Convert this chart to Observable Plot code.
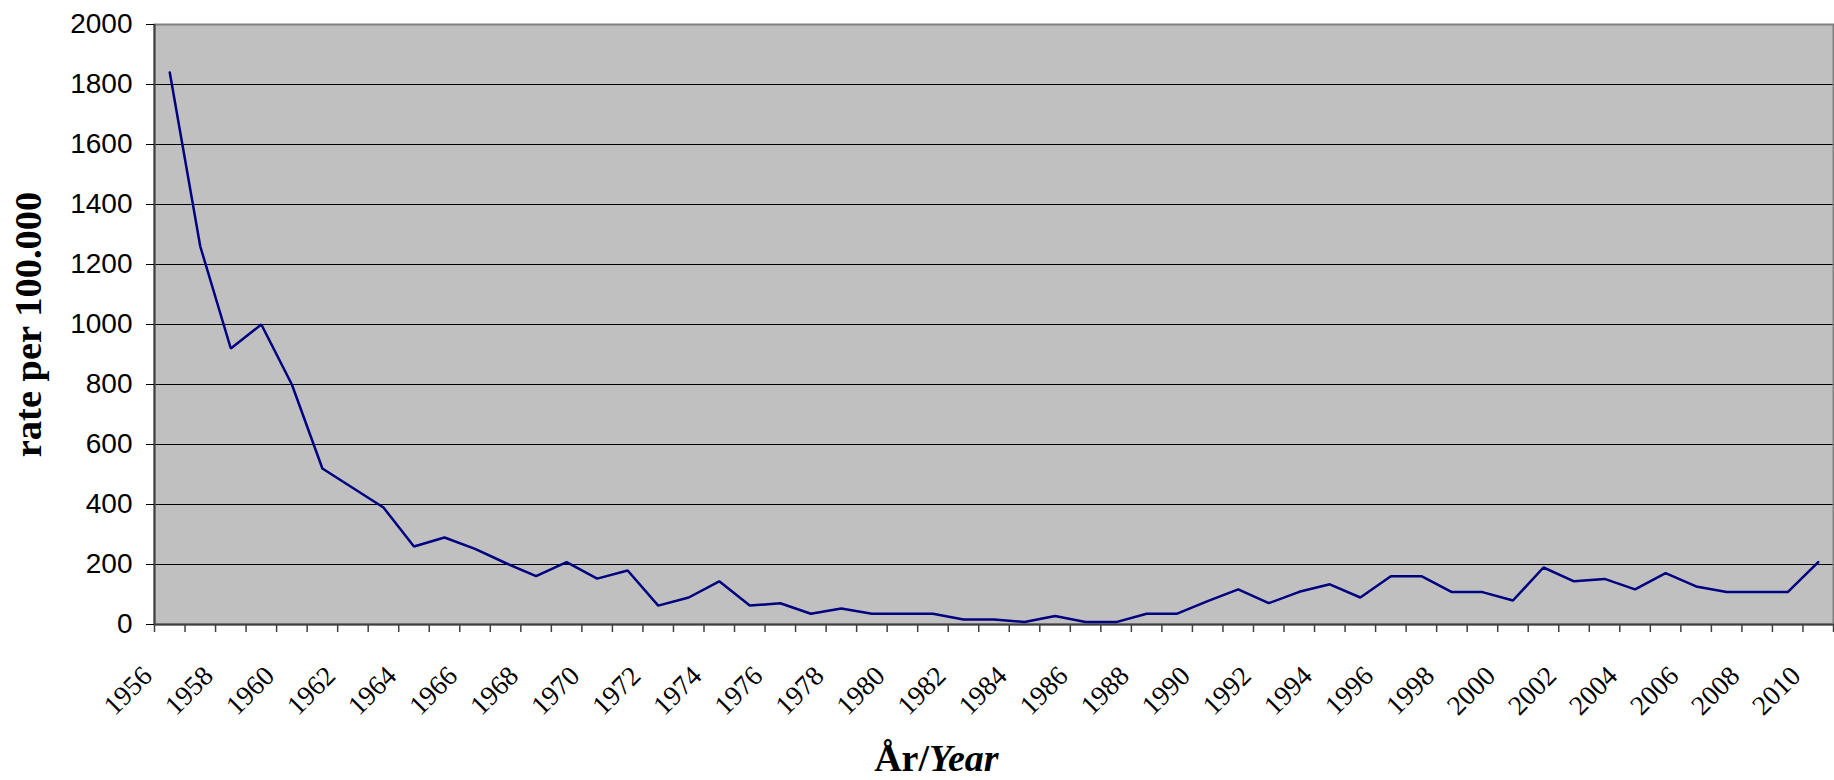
<!DOCTYPE html>
<html>
<head>
<meta charset="utf-8">
<script src="https://cdn.jsdelivr.net/npm/d3@7"></script>
<script src="https://cdn.jsdelivr.net/npm/@observablehq/plot@0.6"></script>
<style>
  html, body { margin: 0; padding: 0; background: #ffffff; }
  #chart { width: 1834px; height: 780px; overflow: hidden; }
</style>
</head>
<body>
<div id="chart"></div>
<script>
const years = d3.range(1956, 2011);
const rates = [
  1840, 1260, 920, 1000, 800, 520, 455, 390, 260, 290,
  252, 205, 161, 208, 153, 180, 63, 90, 144, 63,
  71, 36, 53, 36, 36, 36, 17, 17, 8, 28,
  8, 8, 36, 36, 78, 117, 71, 109, 134, 90,
  161, 161, 108, 108, 80, 190, 144, 152, 117, 171,
  127, 108, 108, 108, 208
];
const xTickLabels = d3.range(1956, 2011, 2);
const yTicks = [0, 200, 400, 600, 800, 1000, 1200, 1400, 1600, 1800, 2000];
const yGrid = [200, 400, 600, 800, 1000, 1200, 1400, 1600, 1800];
const yTitle = "rate per 100.000";
const xTitleA = "År/";
const xTitleB = "Year";

const data = years.map((year, i) => ({year, rate: rates[i]}));
const boundaries = years.concat([years[years.length - 1] + 1]).map(y => y - 0.5);

const chart = Plot.plot({
  width: 1834,
  height: 780,
  marginLeft: 154,
  marginRight: 1,
  marginTop: 24,
  marginBottom: 156,
  style: {background: "#ffffff", overflow: "visible"},
  x: {type: "linear", domain: [1955.5, 2010.5], axis: null},
  y: {domain: [0, 2000], axis: null},
  marks: [
    Plot.frame({fill: "#c0c0c0", stroke: null}),
    Plot.ruleY(yGrid, {stroke: "#000000", strokeWidth: 1}),
    Plot.frame({stroke: "#808080", strokeWidth: 2, fill: null}),
    Plot.ruleX([1955.5], {stroke: "#404040", strokeWidth: 2}),
    Plot.ruleY([0], {stroke: "#404040", strokeWidth: 2}),
    Plot.axisX({ticks: boundaries, tickSize: 8, tickFormat: () => "", stroke: "#404040", strokeWidth: 1.5, label: null}),
    Plot.axisY({ticks: yTicks, tickSize: 8, tickPadding: 14, stroke: "#000000", label: null,
      tickFormat: d => String(d), fontSize: 28, fontFamily: "Liberation Sans", fill: "#000000"}),
    Plot.text(xTickLabels, {
      x: d => d, frameAnchor: "bottom", text: d => String(d),
      rotate: -45, textAnchor: "end", lineAnchor: "bottom",
      dx: -16, dy: 53, fontSize: 27.5, fontFamily: "Liberation Serif", fill: "#000000"
    }),
    Plot.line(data, {x: "year", y: "rate", stroke: "#000080", strokeWidth: 2.5, strokeLinejoin: "miter"}),
    Plot.text([yTitle], {
      text: d => d, frameAnchor: "left", rotate: -90, textAnchor: "middle", lineAnchor: "middle",
      dx: -126, fontSize: 38.5, fontWeight: "bold", fontFamily: "Liberation Serif", fill: "#000000"
    }),
    Plot.text([xTitleA], {
      text: d => d, frameAnchor: "bottom", textAnchor: "end", lineAnchor: "bottom",
      dx: -65, dy: 146, fontSize: 38, fontWeight: "bold", fontFamily: "Liberation Serif", fill: "#000000"
    }),
    Plot.text([xTitleB], {
      text: d => d, frameAnchor: "bottom", textAnchor: "start", lineAnchor: "bottom",
      dx: -65, dy: 146, fontSize: 38, fontWeight: "bold", fontStyle: "italic", fontFamily: "Liberation Serif", fill: "#000000"
    })
  ]
});
document.getElementById("chart").appendChild(chart);
</script>
</body>
</html>
